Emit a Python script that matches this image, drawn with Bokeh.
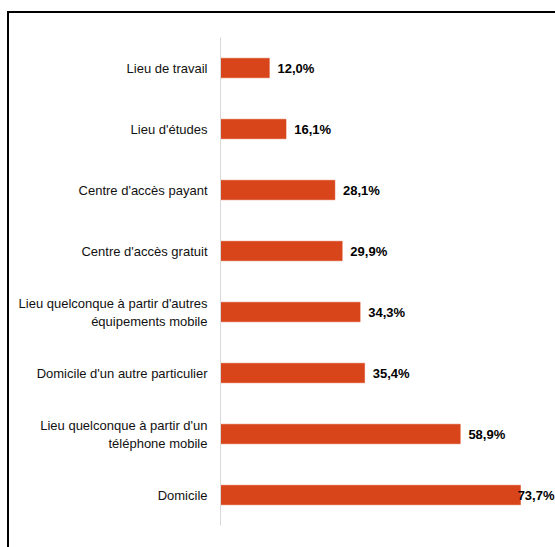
from bokeh.plotting import figure
from bokeh.models import Range1d, FactorRange, ColumnDataSource, LabelSet
from bokeh.embed import file_html
from bokeh.resources import INLINE
from bokeh.core.properties import value
import numpy as np

categories = [
    "Lieu de travail",
    "Lieu d'études",
    "Centre d'accès payant",
    "Centre d'accès gratuit",
    "Lieu quelconque à partir d'autres\néquipements mobile",
    "Domicile d'un autre particulier",
    "Lieu quelconque à partir d'un\ntéléphone mobile",
    "Domicile",
]
values = [12.0, 16.1, 28.1, 29.9, 34.3, 35.4, 58.9, 73.7]
labels = ["12,0%", "16,1%", "28,1%", "29,9%", "34,3%", "35,4%", "58,9%", "73,7%"]

FONT = "Liberation Sans"
BAR = "#d9451b"

label_x = np.minimum(np.array(values) + 2.0, 73.0)

src = ColumnDataSource(dict(cat=categories, val=values, lab=labels, lx=label_x))

p = figure(
    frame_width=335, frame_height=488,
    min_border_left=211, min_border_right=0, min_border_top=24, min_border_bottom=22,
    x_range=Range1d(0, 82.3),
    y_range=FactorRange(*categories[::-1], range_padding=0),
    output_backend="svg", toolbar_location=None,
    margin=(11, 0, 0, 7),
    styles={"border-left": "2px solid black", "border-top": "2px solid black"},
)
p.hbar(y="cat", right="val", left=0, height=0.32, source=src,
       fill_color=BAR, line_color=BAR, line_width=0.5)

p.add_layout(LabelSet(x="lx", y="cat", text="lab", source=src,
                      text_font=value(FONT), text_font_size="13px",
                      text_font_style="bold", text_color="#000000",
                      text_baseline="middle", x_offset=0))

p.xaxis.visible = False
p.xgrid.visible = False
p.ygrid.visible = False
p.yaxis.axis_line_color = "#d9d9d9"
p.yaxis.axis_line_width = 1
p.yaxis.major_tick_line_color = None
p.yaxis.minor_tick_line_color = None
p.yaxis.major_label_standoff = 7
p.yaxis.major_label_text_font = FONT
p.yaxis.major_label_text_font_size = "13px"
p.yaxis.major_label_text_color = "#111111"
p.outline_line_color = None
p.background_fill_color = "white"
p.border_fill_color = "white"

open("out.html", "w").write(file_html(p, INLINE))
